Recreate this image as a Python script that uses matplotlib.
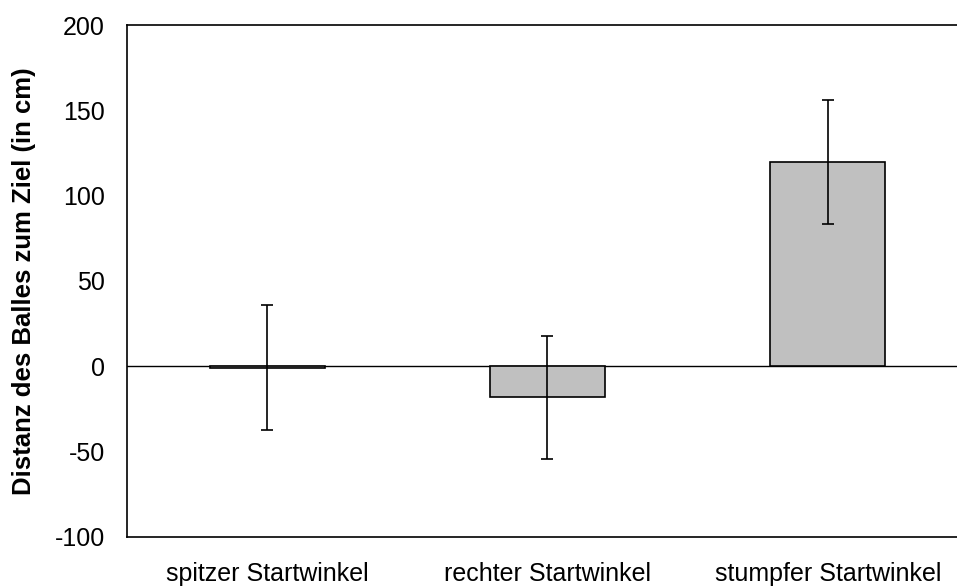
import matplotlib.pyplot as plt
import numpy as np

plt.rcParams['font.family'] = ['Liberation Sans', 'DejaVu Sans']
plt.rcParams['axes.unicode_minus'] = False

categories = ['spitzer Startwinkel', 'rechter Startwinkel', 'stumpfer Startwinkel']
means = [-0.7, -18.2, 119.8]
errors = [36.5, 36.2, 36.2]

fig = plt.figure(figsize=(9.57, 5.87), dpi=100)
ax = fig.add_axes([0.1327, 0.0852, 0.8788, 0.8722])

x = np.arange(len(categories))
ax.bar(x, means, width=0.41, color='#c0c0c0', edgecolor='black', linewidth=1.2, zorder=2)
ax.errorbar(x, means, yerr=errors, fmt='none', ecolor='black', elinewidth=1.2,
            capsize=4.5, capthick=1.2, zorder=3)
ax.axhline(0, color='black', linewidth=1.0, zorder=1)

ax.set_xlim(-0.5, 2.5)
ax.set_ylim(-100, 200)
ax.set_yticks(np.arange(-100, 201, 50))
ax.set_xticks(x)
ax.set_xticklabels(categories)
ax.tick_params(axis='both', length=0, labelsize=18)
ax.tick_params(axis='y', pad=16)
ax.tick_params(axis='x', pad=18)
ax.spines['right'].set_visible(False)
for s in ['left', 'top', 'bottom']:
    ax.spines[s].set_linewidth(1.2)

ax.set_ylabel('Distanz des Balles zum Ziel (in cm)', fontsize=18.5, fontweight='bold', labelpad=13)

fig.savefig('out.png', dpi=100)
